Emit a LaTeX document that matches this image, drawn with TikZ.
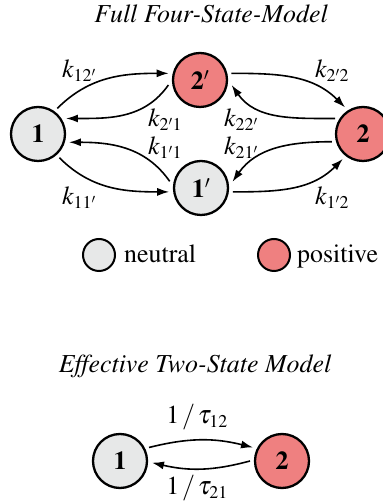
\documentclass[tikz,border=0pt]{standalone}
\usepackage[T1]{fontenc}
\usepackage{mathptmx}
\DeclareMathSizes{26}{26}{18}{13}
\usetikzlibrary{arrows.meta}
\definecolor{neutralc}{RGB}{231,232,232}
\definecolor{posc}{RGB}{239,128,128}
\newcommand{\ksub}[1]{$k_{#1}$}
\newcommand{\tsub}[1]{$1\,/\,\tau_{#1}$}
\begin{document}
\begin{tikzpicture}[x=1bp,y=1bp,
  every node/.style={font=\fontsize{26}{30}\selectfont},
  state/.style={circle,draw=black,line width=2.3bp,minimum size=54bp,inner sep=0pt,outer sep=5bp,font=\fontsize{26}{30}\selectfont\bfseries},
  neutral/.style={state,fill=neutralc},
  positive/.style={state,fill=posc},
  legendbox/.style={minimum size=32bp,line width=2bp,outer sep=0pt},
  arr/.style={line width=1.6bp,-{Latex[length=12bp,width=8bp]}},
  lab/.style={anchor=base west,inner sep=0pt}]
\useasboundingbox (0,0) rectangle (382,502);

% titles
\node[anchor=base,inner sep=0pt] (t1) at (211,479) {\itshape Full Four-State-Model};
\node[anchor=base,inner sep=0pt] (t2) at (195,129) {\itshape Effective Two-State Model};

% four-state nodes
\node[neutral]  (n1)  at (38,368)  {1};
\node[positive] (n2p) at (200,422) {$\mathbf{2'}$};
\node[positive] (n2)  at (363,368) {2};
\node[neutral]  (n1p) at (201,314) {$\mathbf{1'}$};

% arrows
\draw[arr] (n1.53)   to[out=45,in=180]  (n2p.168);
\draw[arr] (n2p.189) to[out=235,in=0]   (n1.29);
\draw[arr] (n2p.12)  to[out=0,in=135]   (n2.124);
\draw[arr] (n2.151)  to[out=180,in=-55] (n2p.-9);
\draw[arr] (n1p.168) to[out=125,in=0]   (n1.-15);
\draw[arr] (n2.194)  to[out=180,in=55]  (n1p.11);
\draw[arr] (n1.-48)  to[out=-45,in=180] (n1p.187);
\draw[arr] (n1p.-7)  to[out=0,in=225]   (n2.231);

% rate labels
\node[lab] (l12p) at (62,424)  {\ksub{12'}};
\node[lab] (l2p1) at (148,375) {\ksub{2'1}};
\node[lab] (l2p2) at (315,424) {\ksub{2'2}};
\node[lab] (l22p) at (224,375) {\ksub{22'}};
\node[lab] (l1p1) at (148,347) {\ksub{1'1}};
\node[lab] (l21p) at (224,347) {\ksub{21'}};
\node[lab] (l11p) at (62,297)  {\ksub{11'}};
\node[lab] (l1p2) at (315,297) {\ksub{1'2}};

% legend
\node[neutral,legendbox]  (ln) at (99,247)  {};
\node[lab] (lnt) at (124,239) {neutral};
\node[positive,legendbox] (lp) at (274,247) {};
\node[lab] (lpt) at (297,239) {positive};

% two-state model
\node[neutral]  (b1) at (120,41) {1};
\node[positive] (b2) at (282,41) {2};
\draw[arr] (b1.25)  to[bend left=14] (b2.155);
\draw[arr] (b2.180) to[bend left=14] (b1.-3);
\node[anchor=base,inner sep=0pt] (tau12) at (197,78) {\tsub{12}};
\node[anchor=base,inner sep=0pt] (tau21) at (197,7)  {\tsub{21}};
\end{tikzpicture}
\end{document}
